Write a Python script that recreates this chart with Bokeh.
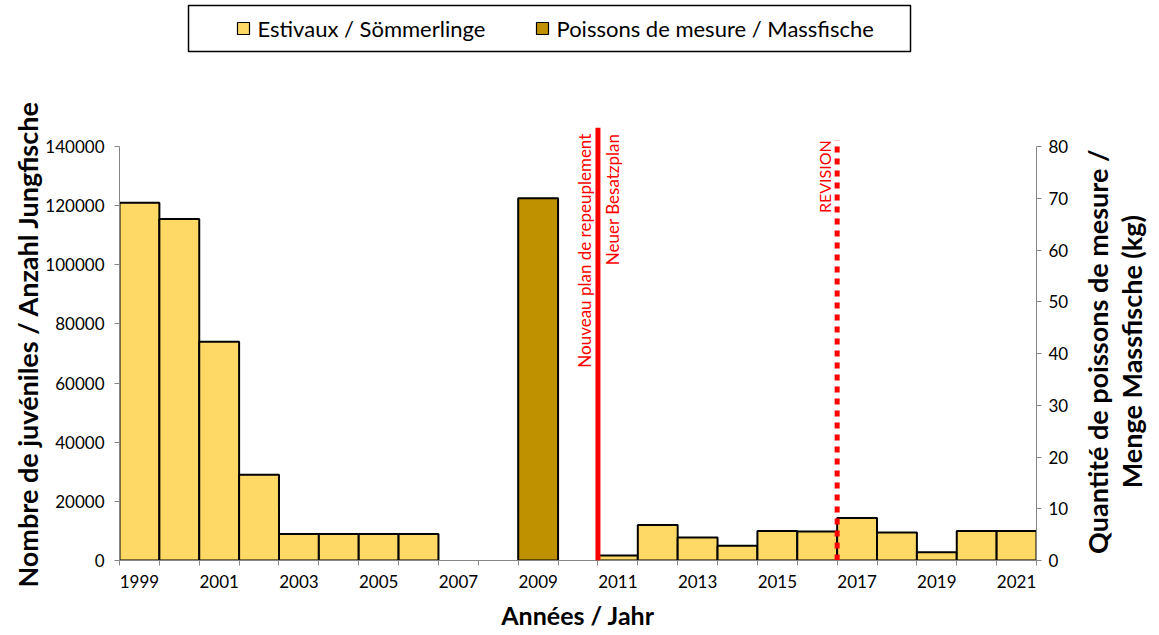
import math
from bokeh.plotting import figure
from bokeh.layouts import column, row
from bokeh.models import Range1d, LinearAxis, FixedTicker, Span, Label, BasicTickFormatter
from bokeh.core.properties import value
from bokeh.embed import file_html
from bokeh.resources import INLINE

# ---- data ----
years = list(range(1999, 2022))
juveniles = [121000, 115500, 74000, 29000, 9000, 9000, 9000, 9000, 0, 0, 0, 0,
             1700, 12000, 7800, 5000, 10000, 9800, 14400, 9500, 2800, 10000, 10000]
mass_years = [2009]
mass_kg = [70]
label_years = list(range(1999, 2022, 2))
left_ticks = list(range(0, 140001, 20000))
right_ticks = list(range(0, 81, 10))
series_names = ["Estivaux / Sömmerlinge", "Poissons de mesure / Massfische"]
series_colors = ["#FFD966", "#BF9000"]
new_plan_year = 2010.5
revision_year = 2016.5

Y_MAX = 140000
KG_MAX = 80
HEAD = 433 / 414  # frame extends a little above the top tick

FONT = "Lato"
GRAY = "#868686"

TOTAL_W = 1155
LEG_H = 100
MAIN_H = 535
MAIN_W = 1078
RIGHT_W = TOTAL_W - MAIN_W

# ---------------- legend strip ----------------
lg = figure(width=TOTAL_W, height=LEG_H, output_backend="svg", toolbar_location=None,
            x_range=Range1d(0, TOTAL_W), y_range=Range1d(LEG_H, 0),
            x_axis_type=None, y_axis_type=None,
            min_border_left=0, min_border_right=0, min_border_top=0, min_border_bottom=0)
lg.grid.visible = False
lg.outline_line_color = None
lg.quad(left=[188], right=[910], top=[5], bottom=[51], fill_color="white",
        line_color="black", line_width=1.5)
sw_x = [243, 542]
lg.rect(x=sw_x, y=[28, 28], width=12, height=12, fill_color=series_colors,
        line_color="black", line_width=1.2)
lg.text(x=[v + 14 for v in sw_x], y=[28, 28], text=series_names, text_baseline="middle",
        text_align="left", text_font=value(FONT), text_font_size="22px", text_color="black")

# ---------------- main chart ----------------
p = figure(width=MAIN_W, height=MAIN_H, output_backend="svg", toolbar_location=None,
           x_range=Range1d(years[0] - 0.5, years[-1] + 0.5),
           y_range=Range1d(0, Y_MAX * HEAD),
           min_border_left=119, min_border_right=MAIN_W - 1036, min_border_top=27,
           min_border_bottom=MAIN_H + LEG_H - 560)
p.extra_y_ranges = {"kg": Range1d(0, KG_MAX * HEAD)}
p.xgrid.visible = False
p.ygrid.visible = False
p.outline_line_color = None

jx = [y for y, v in zip(years, juveniles) if v > 0]
jv = [v for v in juveniles if v > 0]
p.vbar(x=jx, top=jv, width=1, fill_color=series_colors[0], line_color="black", line_width=2)
p.vbar(x=mass_years, top=mass_kg, width=1, y_range_name="kg",
       fill_color=series_colors[1], line_color="black", line_width=2)

# x axis
xa = p.xaxis[0]
xa.ticker = FixedTicker(ticks=label_years,
                        minor_ticks=[y - 0.5 for y in years] + [years[-1] + 0.5])
xa.major_tick_line_color = None
xa.major_tick_out = 5
xa.major_tick_in = 0
xa.minor_tick_line_color = GRAY
xa.minor_tick_out = 5
xa.minor_tick_in = 0
xa.axis_line_color = GRAY
xa.major_label_text_font = FONT
xa.major_label_text_font_size = "17px"
xa.major_label_text_color = "black"
xa.major_label_standoff = 9
xa.axis_label = "Années / Jahr"
xa.axis_label_text_font = FONT
xa.axis_label_text_font_size = "25px"
xa.axis_label_text_font_style = "bold"
xa.axis_label_text_color = "black"
xa.axis_label_standoff = 9

# left axis
ya = p.yaxis[0]
ya.ticker = FixedTicker(ticks=left_ticks)
ya.formatter = BasicTickFormatter(use_scientific=False)
ya.bounds = (0, Y_MAX)
ya.minor_tick_line_color = None
ya.major_tick_out = 5
ya.major_tick_in = 0
ya.major_tick_line_color = GRAY
ya.axis_line_color = GRAY
ya.major_label_text_font = FONT
ya.major_label_text_font_size = "17px"
ya.major_label_text_color = "black"
ya.major_label_standoff = 10
ya.axis_label = "Nombre de juvéniles / Anzahl Jungfische"
ya.axis_label_text_font = FONT
ya.axis_label_text_font_size = "27px"
ya.axis_label_text_font_style = "bold"
ya.axis_label_text_color = "black"
ya.axis_label_standoff = -2

# right axis (ticks only; its title is drawn in the strip to the right)
ra = LinearAxis(y_range_name="kg", ticker=FixedTicker(ticks=right_ticks), bounds=(0, KG_MAX))
ra.minor_tick_line_color = None
ra.major_tick_out = 5
ra.major_tick_in = 0
ra.major_tick_line_color = GRAY
ra.axis_line_color = GRAY
ra.major_label_text_font = FONT
ra.major_label_text_font_size = "17px"
ra.major_label_text_color = "black"
ra.major_label_standoff = 7
p.add_layout(ra, "right")

# vertical markers
p.add_layout(Span(location=new_plan_year, dimension="height", line_color="#FF0000", line_width=5))
p.segment(x0=[revision_year], y0=[0], x1=[revision_year], y1=[Y_MAX * 1.015],
          line_color="#FF0000", line_width=5, line_dash="6 6", line_cap="butt")

top_txt = Y_MAX * 1.031
p.add_layout(Label(x=new_plan_year, y=top_txt, text="Nouveau plan de repeuplement", angle=math.pi / 2,
                   text_align="right", text_baseline="bottom", x_offset=-3,
                   text_color="#FF0000", text_font=FONT, text_font_size="17px"))
p.add_layout(Label(x=new_plan_year, y=top_txt, text="Neuer Besatzplan", angle=math.pi / 2,
                   text_align="right", text_baseline="top", x_offset=4,
                   text_color="#FF0000", text_font=FONT, text_font_size="17px"))
p.add_layout(Label(x=revision_year, y=Y_MAX * 1.015, text="REVISION", angle=math.pi / 2,
                   text_align="right", text_baseline="bottom", x_offset=-3,
                   text_color="#FF0000", text_font=FONT, text_font_size="16px"))

# ---------------- right axis title strip ----------------
rt = figure(width=RIGHT_W, height=MAIN_H, output_backend="svg", toolbar_location=None,
            x_range=Range1d(0, RIGHT_W), y_range=Range1d(MAIN_H, 0),
            x_axis_type=None, y_axis_type=None,
            min_border_left=0, min_border_right=0, min_border_top=0, min_border_bottom=0)
rt.grid.visible = False
rt.outline_line_color = None
rt.text(x=[1114 - MAIN_W], y=[377 - LEG_H],
        text=["Quantité de poissons de mesure /\nMenge Massfische (kg)"],
        angle=math.pi / 2, text_align="center", text_baseline="middle",
        text_font=value(FONT), text_font_style="bold", text_font_size="27px",
        text_line_height=1.05, text_color="black")

layout = column(lg, row(p, rt, spacing=0), spacing=0)
open("out.html", "w").write(file_html(layout, INLINE))
